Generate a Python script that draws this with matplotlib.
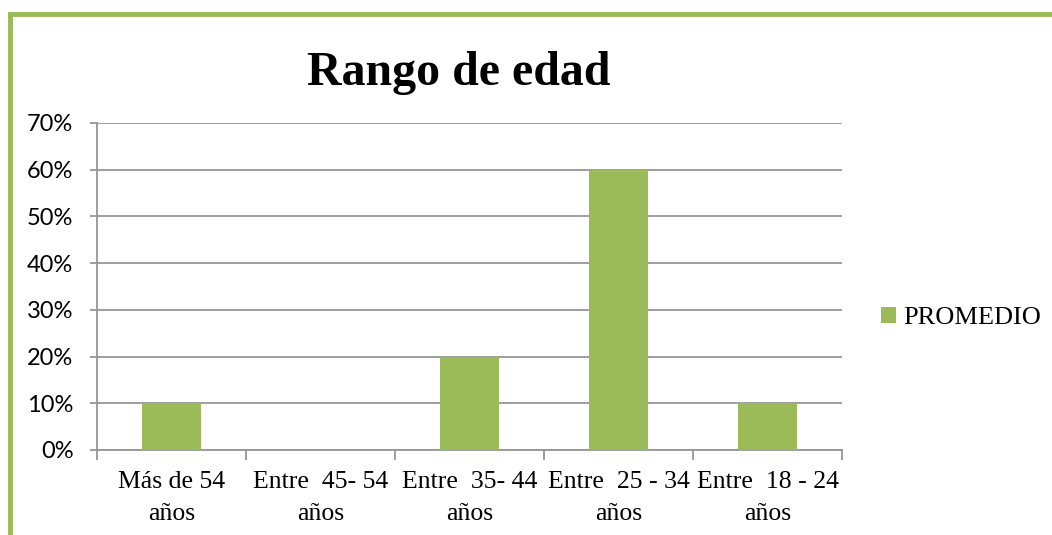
import matplotlib
matplotlib.use("Agg")
from matplotlib import pyplot as plt
from matplotlib.lines import Line2D
from matplotlib.patches import Patch

# data
categories = ["Más de 54\naños", "Entre  45- 54\naños", "Entre  35- 44\naños",
              "Entre  25 - 34\naños", "Entre  18 - 24\naños"]
promedio = [0.10, 0.0, 0.20, 0.60, 0.10]
y_ticks = [0, 0.1, 0.2, 0.3, 0.4, 0.5, 0.6, 0.7]
y_labels = ["0%", "10%", "20%", "30%", "40%", "50%", "60%", "70%"]

green = "#9BBB59"
grid_grey = "#969696"

fig = plt.figure(figsize=(10.52, 5.35), dpi=100)
ax = fig.add_axes([0.0922, 0.1589, 0.7082, 0.6112])

x = list(range(len(categories)))
ax.bar(x, promedio, width=0.4, color=green, zorder=3)

ax.set_xlim(-0.5, len(categories) - 0.5)
ax.set_ylim(0, 0.7)
ax.set_yticks(y_ticks)
ax.set_yticklabels(y_labels, fontfamily="Lato", fontsize=17)
ax.yaxis.grid(True, color=grid_grey, linewidth=1.3, zorder=0)

# category labels between boundary ticks
ax.set_xticks([i - 0.5 for i in range(len(categories) + 1)])
ax.set_xticklabels([])
ax.set_xticks(x, minor=True)
ax.set_xticklabels(categories, minor=True, fontfamily="Liberation Serif",
                   fontsize=18.5, linespacing=1.6)
ax.tick_params(axis="x", which="minor", length=0, pad=15)
ax.tick_params(axis="x", which="major", length=7, color=grid_grey, width=1.3)
ax.tick_params(axis="y", length=5, color=grid_grey, width=1.3, pad=12)

for side in ["top", "right"]:
    ax.spines[side].set_visible(False)
for side in ["left", "bottom"]:
    ax.spines[side].set_color(grid_grey)
    ax.spines[side].set_linewidth(1.3)

fig.text(0.4363, 0.842, "Rango de edad", ha="center", va="baseline",
         fontfamily="Liberation Serif", fontweight="bold", fontsize=34.5)

handles = [Patch(facecolor=green, label="PROMEDIO")]
fig.legend(handles=handles, loc="center left", bbox_to_anchor=(0.815, 0.405),
           frameon=False, prop={"family": "Liberation Serif", "size": 19},
           handlelength=0.55, handleheight=0.55, handletextpad=0.3)

# green chart-area border (top and left)
fig.add_artist(Line2D([0.0095, 1.0], [0.9738, 0.9738], color=green, linewidth=3.5,
                      transform=fig.transFigure, solid_capstyle="projecting"))
fig.add_artist(Line2D([0.0095, 0.0095], [0.0, 0.9738], color=green, linewidth=3.5,
                      transform=fig.transFigure, solid_capstyle="projecting"))

plt.savefig("out.png", dpi=100)
